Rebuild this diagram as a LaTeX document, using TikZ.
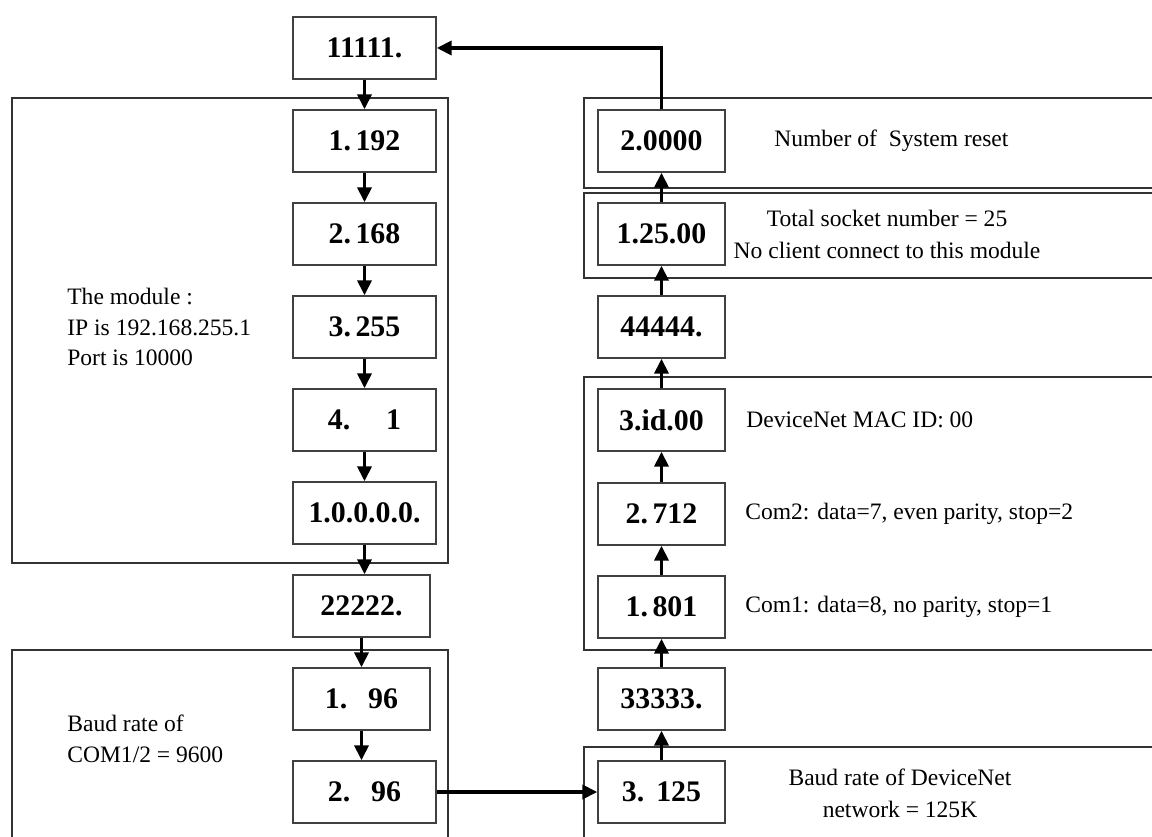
\documentclass[tikz,border=0pt]{standalone}
\usepackage{fontspec}
\setmainfont{Liberation Serif}
\usetikzlibrary{arrows.meta,positioning,calc}

\begin{document}
\begin{tikzpicture}[x=0.02cm, y=-0.02cm, >={Triangle[length=0.3cm,width=0.28cm]}]
   \clip (0,0) rectangle (1152,837);
   % group frames
   \begin{scope}[draw=black!80, line width=0.8pt]
    \draw (12,98) rectangle (448,563);
    \draw (12,650) rectangle (448,860);
    \draw (584,98) rectangle (1170,188);
    \draw (584,193) rectangle (1170,278);
    \draw (584,377) rectangle (1170,650);
    \draw (584,747) rectangle (1170,860);
   \end{scope}
   \begin{scope}[every node/.style={rectangle,draw=black!75,line width=0.8pt,fill=white,
       minimum width=2.86cm,minimum height=1.24cm,inner sep=0pt,
       font=\fontsize{17}{20}\selectfont\bfseries}]
    \node (m1)  at (364.5,48)  {11111.};
    \node (ip1) at (364.5,141) {1.\hspace{0.15em}192};
    \node (ip2) at (364.5,234) {2.\hspace{0.15em}168};
    \node (ip3) at (364.5,327) {3.\hspace{0.15em}255};
    \node (ip4) at (364.5,420) {4.\hspace{1.2em}1};
    \node (ipx) at (364.5,513) {1.0.0.0.0.};
    \node (m2)  [minimum width=2.74cm] at (361.5,606) {22222.};
    \node (bd1) [minimum width=2.74cm] at (361.5,699) {1.\hspace{0.7em}96};
    \node (bd2) at (364.5,792) {2.\hspace{0.7em}96};
   \end{scope}
   \begin{scope}[every node/.style={rectangle,draw=black!75,line width=0.8pt,fill=white,
       minimum width=2.54cm,minimum height=1.24cm,inner sep=0pt,
       font=\fontsize{17}{20}\selectfont\bfseries}]
    \node (rs)  at (661.5,141) {2.0000};
    \node (sk)  at (661.5,234) {1.25.00};
    \node (m4)  at (661.5,327) {44444.};
    \node (id)  at (661.5,420) {3.id.00};
    \node (c2)  at (661.5,514) {2.\hspace{0.15em}712};
    \node (c1)  at (661.5,607) {1.\hspace{0.15em}801};
    \node (m3)  at (661.5,699) {33333.};
    \node (bd3) at (661.5,792) {3.\hspace{0.4em}125};
   \end{scope}
   % notes
   \begin{scope}[every node/.style={inner sep=0pt,font=\fontsize{13.4}{17.6}\selectfont}]
    \node (modnote)   [anchor=west,align=left] at (67,327) {The module :\\IP is 192.168.255.1\\Port is 10000};
    \node (baudnote)  [anchor=west,align=left] at (67,739) {Baud rate of\\COM1/2 = 9600};
    \node (rsnote)    [anchor=west] at (774,141) {Number of\ \ System reset};
    \node (sknote)    [align=center,font=\fontsize{13.4}{18.2}\selectfont] at (887,234) {Total socket number = 25\\No client connect to this module};
    \node (idnote)    [anchor=west] at (746,420) {DeviceNet MAC ID: 00};
    \node (c2note)    [anchor=west] at (745,514) {Com2: data=7, even parity, stop=2};
    \node (c1note)    [anchor=west] at (745,607) {Com1: data=8, no parity, stop=1};
    \node (dnetnote)  [align=center,font=\fontsize{13.4}{18.2}\selectfont] at (900,793) {Baud rate of DeviceNet\\network = 125K};
   \end{scope}
   \begin{scope}[->,line width=2.1pt,every edge/.style={draw=black,line width=2.1pt}]
    \draw  (m1) edge (ip1);
    \draw  (ip1) edge (ip2);
    \draw  (ip2) edge (ip3);
    \draw  (ip3) edge (ip4);
    \draw  (ip4) edge (ipx);
    \draw  (ipx.south) -- (ipx.south |- m2.north);
    \draw  (m2.south) -- (m2.south |- bd1.north);
    \draw  (bd1.south) -- (bd1.south |- bd2.north);
    \draw  (bd2) edge (bd3);

    \draw  (bd3) edge (m3);
    \draw  (m3) edge (c1);
    \draw  (c1) edge (c2);
    \draw  (c2) edge (id);
    \draw  (id) edge (m4);
    \draw  (m4) edge (sk);
    \draw  (sk) edge (rs);
    \draw  (rs.north) |- (m1.east);
   \end{scope}
\end{tikzpicture}
\end{document}
